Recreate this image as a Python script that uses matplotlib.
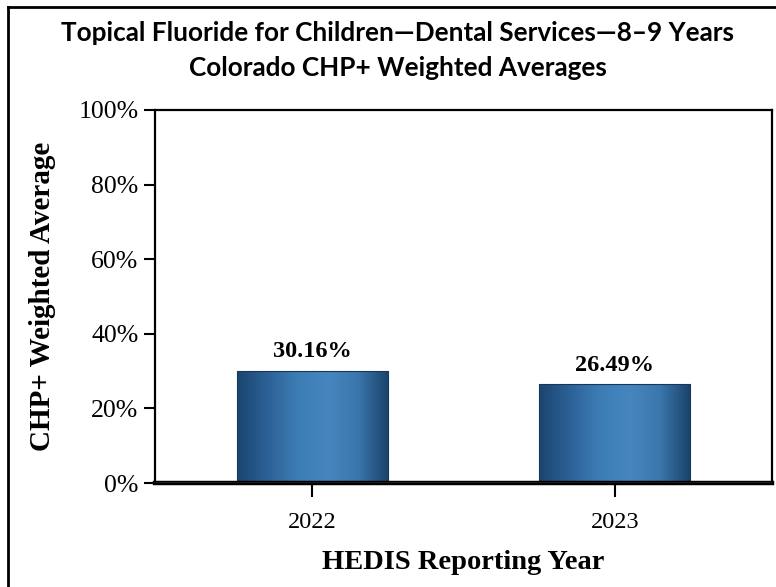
import numpy as np
import matplotlib
matplotlib.use("Agg")
import matplotlib.pyplot as plt
from matplotlib.colors import LinearSegmentedColormap
from matplotlib.lines import Line2D

years = ["2022", "2023"]
rates = [30.16, 26.49]
y_ticks = [0, 20, 40, 60, 80, 100]
title_lines = ["Topical Fluoride for Children\u2014Dental Services\u20148\u20139 Years",
               "Colorado CHP+ Weighted Averages"]

W, H = 776, 587
fig = plt.figure(figsize=(W / 100, H / 100), dpi=100)
ax = fig.add_axes([155 / W, 1 - 483 / H, (772 - 155) / W, (483 - 110) / H])

serif = ["Liberation Serif", "DejaVu Serif"]

# horizontal shading for the bars: dark edges, lighter middle
bar_cmap = LinearSegmentedColormap.from_list(
    "barshade",
    ["#1a4570", "#2c6196", "#3d7db5", "#4686bf", "#3a76ab", "#1a426a"])
grad = np.linspace(0, 1, 256).reshape(1, -1)

x = np.arange(len(years))
width = 0.5
bars = ax.bar(x, rates, width=width, color="none", edgecolor="#17375e", linewidth=0.8, zorder=3)
for b, v in zip(bars, rates):
    x0, w = b.get_x(), b.get_width()
    im = ax.imshow(grad, cmap=bar_cmap, aspect="auto",
                   extent=[x0, x0 + w, 0, v], zorder=2, interpolation="bicubic")
    im.set_clip_path(b)
    ax.text(b.get_x() + w / 2, v + 2.3, f"{v:.2f}%", ha="center", va="bottom",
            fontsize=17.5, fontweight="bold", family=serif)

ax.set_xlim(-0.52, 1.52)
ax.set_ylim(0, 100)
ax.set_yticks(y_ticks)
ax.set_yticklabels([f"{t}%" for t in y_ticks], fontsize=18.5, family=serif)
ax.set_xticks(x)
ax.set_xticklabels(years, fontsize=17.5, family=serif)
ax.tick_params(axis="y", length=8, width=1.5, pad=4)
ax.tick_params(axis="x", length=10, width=1.5, pad=11)

for side in ["left", "top", "right"]:
    ax.spines[side].set_linewidth(1.6)
ax.spines["bottom"].set_linewidth(3.2)
ax.spines["bottom"].set_zorder(5)
# thin grey rule along the baseline
ax.axhline(0, color="#888888", lw=1, zorder=6)

ax.set_ylabel("CHP+ Weighted Average", fontsize=21, fontweight="bold", family=serif, labelpad=16)
ax.set_xlabel("HEDIS Reporting Year", fontsize=20.5, fontweight="bold", family=serif, labelpad=12)

title_x = 398 / W
fig.text(title_x, 1 - 33 / H, title_lines[0], ha="center", va="center",
         fontsize=18.8, fontweight="bold", family=["Lato", "DejaVu Sans"])
fig.text(title_x, 1 - 68 / H, title_lines[1], ha="center", va="center",
         fontsize=18.8, fontweight="bold", family=["Lato", "DejaVu Sans"])

# outer frame (left and top edges visible)
fig.add_artist(Line2D([7.5 / W, 7.5 / W], [0, 1 - 6.5 / H], color="black", lw=2,
                      transform=fig.transFigure))
fig.add_artist(Line2D([7.5 / W, 1], [1 - 6.5 / H, 1 - 6.5 / H], color="black", lw=2,
                      transform=fig.transFigure))

fig.savefig("out.png", dpi=100)
